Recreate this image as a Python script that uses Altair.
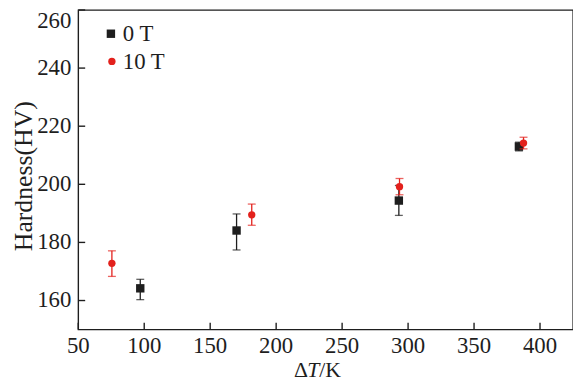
import altair as alt
import pandas as pd

series = ["0 T", "10 T"]
colors = ["#1e1e1e", "#e3211c"]
shapes = ["square", "circle"]

# 0 T series
dT_0T = [97, 170, 293, 384]
hv_0T = [164.2, 184.1, 194.4, 213.0]
lo_0T = [160.3, 177.4, 189.3, 211.5]
hi_0T = [167.3, 189.8, 199.6, 214.5]

# 10 T series
dT_10T = [75.5, 181.5, 293.5, 387.5]
hv_10T = [172.8, 189.5, 199.2, 214.2]
lo_10T = [168.3, 185.9, 196.4, 212.2]
hi_10T = [177.1, 193.2, 202.0, 216.2]

x_ticks = [50, 100, 150, 200, 250, 300, 350, 400]
y_ticks = [160, 180, 200, 220, 240, 260]
x_domain = [50, 425]
y_domain = [150, 260]
y_title = ["Hardness(HV)"]
x_title_parts = ["Δ", "T", "/K"]

FONT = "Liberation Serif"
INK = "#1e1e1e"
W, H = 500, 323

df0 = pd.DataFrame({"series": series[0], "dT": dT_0T, "hv": hv_0T, "lo": lo_0T, "hi": hi_0T})
df1 = pd.DataFrame({"series": series[1], "dT": dT_10T, "hv": hv_10T, "lo": lo_10T, "hi": hi_10T})

xscale = alt.Scale(domain=x_domain, nice=False, zero=False)
yscale = alt.Scale(domain=y_domain, nice=False, zero=False)


def X(field):
    return alt.X(field, scale=xscale, axis=None)


def Y(field):
    return alt.Y(field, scale=yscale, axis=None)


def series_layers(df, color, shape, size):
    base = alt.Chart(df)
    rule = base.mark_rule(strokeWidth=1.3, color=color).encode(
        x=X("dT:Q"), y=Y("lo:Q"), y2="hi:Q")
    cap_hi = base.mark_tick(orient="horizontal", size=8, thickness=1.3, color=color).encode(
        x=X("dT:Q"), y=Y("hi:Q"))
    cap_lo = base.mark_tick(orient="horizontal", size=8, thickness=1.3, color=color).encode(
        x=X("dT:Q"), y=Y("lo:Q"))
    pts = base.mark_point(filled=True, size=size, opacity=1, shape=shape, color=color).encode(
        x=X("dT:Q"), y=Y("hv:Q"))
    return [rule, cap_hi, cap_lo, pts]


# axes drawn from the tick lists through the same scales (inward ticks)
xt = pd.DataFrame({"v": x_ticks})
yt_main = pd.DataFrame({"v": y_ticks[:-1]})
yt_top = pd.DataFrame({"v": y_ticks[-1:]})
yt_all = pd.DataFrame({"v": y_ticks})

x_tick_marks = alt.Chart(xt).mark_tick(
    orient="vertical", size=7, thickness=1.4, color=INK, opacity=1
).encode(x=X("v:Q"), y=alt.value(H - 3.5))
x_tick_labels = alt.Chart(xt).mark_text(
    font=FONT, fontSize=23, color=INK, align="center", baseline="alphabetic"
).encode(x=X("v:Q"), y=alt.value(H + 23.5), text=alt.Text("v:Q", format="d"))

y_tick_marks = alt.Chart(yt_all).mark_tick(
    orient="horizontal", size=7, thickness=1.4, color=INK, opacity=1
).encode(y=Y("v:Q"), x=alt.value(3.5))
y_tick_labels = alt.Chart(yt_main).mark_text(
    font=FONT, fontSize=23, color=INK, align="right", baseline="middle"
).encode(y=Y("v:Q"), x=alt.value(-7), text=alt.Text("v:Q", format="d"))
y_top_label = alt.Chart(yt_top).mark_text(
    font=FONT, fontSize=23, color=INK, align="right", baseline="middle", dy=11
).encode(y=Y("v:Q"), x=alt.value(-7), text=alt.Text("v:Q", format="d"))

# axis titles
y_title_mark = alt.Chart(pd.DataFrame({"t": y_title})).mark_text(
    font=FONT, fontSize=26, color=INK, angle=270, align="center", baseline="alphabetic"
).encode(text="t:N", x=alt.value(-47), y=alt.value(168))

title_df = pd.DataFrame({"t": x_title_parts})
t_delta = alt.Chart(title_df.iloc[[0]]).mark_text(
    font=FONT, fontSize=22, align="left", baseline="alphabetic", color=INK
).encode(text="t:N", x=alt.value(218), y=alt.value(371.2))
t_T = alt.Chart(title_df.iloc[[1]]).mark_text(
    font=FONT, fontSize=22, fontStyle="italic", align="left", baseline="alphabetic", color=INK
).encode(text="t:N", x=alt.value(231.5), y=alt.value(371.2))
t_K = alt.Chart(title_df.iloc[[2]]).mark_text(
    font=FONT, fontSize=22, align="left", baseline="alphabetic", color=INK
).encode(text="t:N", x=alt.value(243.5), y=alt.value(371.2))

# legend (drawn with marks so the serif font is kept)
leg_df0 = pd.DataFrame({"label": [series[0]]})
leg_df1 = pd.DataFrame({"label": [series[1]]})
leg_sym0 = alt.Chart(leg_df0).mark_point(filled=True, size=72, opacity=1, shape=shapes[0],
                                         color=colors[0]).encode(x=alt.value(33), y=alt.value(24))
leg_sym1 = alt.Chart(leg_df1).mark_point(filled=True, size=55, opacity=1, shape=shapes[1],
                                         color=colors[1]).encode(x=alt.value(34), y=alt.value(52))
leg_txt0 = alt.Chart(leg_df0).mark_text(font=FONT, fontSize=23, color=INK, align="left",
                                        baseline="alphabetic").encode(
    text="label:N", x=alt.value(45), y=alt.value(31))
leg_txt1 = alt.Chart(leg_df1).mark_text(font=FONT, fontSize=23, color=INK, align="left",
                                        baseline="alphabetic").encode(
    text="label:N", x=alt.value(45), y=alt.value(60))

chart = alt.layer(
    *series_layers(df0, colors[0], shapes[0], 72),
    *series_layers(df1, colors[1], shapes[1], 55),
    x_tick_marks, y_tick_marks,
    x_tick_labels, y_tick_labels, y_top_label, y_title_mark,
    t_delta, t_T, t_K,
    leg_sym0, leg_sym1, leg_txt0, leg_txt1,
).properties(
    width=W, height=H,
    background="white",
    autosize=alt.AutoSizeParams(type="none"),
    padding={"left": 71, "top": 0, "right": 0, "bottom": 53},
).configure_view(
    stroke=INK, strokeWidth=1.4
)

chart.save("out.html", embed_options={"renderer": "svg", "actions": False})
